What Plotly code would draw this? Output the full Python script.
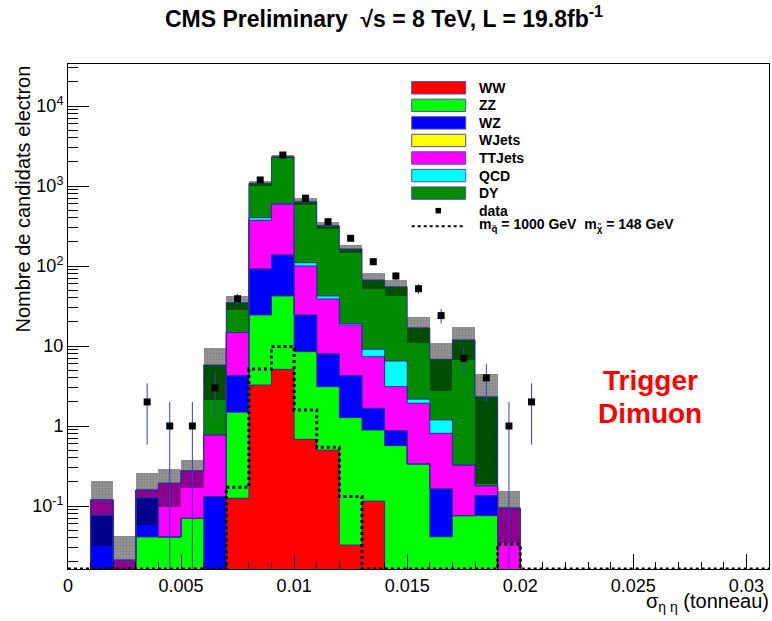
import numpy as np
import plotly.graph_objects as go

# Histogram binning: 31 bins of width 0.001 between 0 and 0.031
bin_width = 0.001
n_bins = 31

# Expected yields per bin (bin i covers [i*0.001, (i+1)*0.001))
ww = [0, 0, 0, 0, 0, 0, 0, 0.125, 3.25, 5.11, 0.682, 0.5, 0.0325, 0.115] + [0] * 17
zz = [0, 0, 0, 0.041, 0.041, 0.070, 0, 1.36, 21.2, 37.1, 7.81, 2.60, 1.24, 0.775,
      0.567, 0.335, 0.0413, 0.0757, 0.0757] + [0] * 12
wz = [0, 0.077, 0, 0.086, 0, 0, 0.131, 2.77, 67.3, 94.8, 15.9, 4.84, 2.98, 0.77,
      0.307, 0, 0.122, 0, 0.059] + [0] * 12
wjets = [0] * 31
ttjets = [0, 0.042, 0.021, 0.031, 0.151, 0.204, 0.641, 10.5, 281, 453, 75.6, 30.8,
          14.1, 5.69, 2.23, 1.59, 0.647, 0.249, 0.044, 0.094] + [0] * 11
qcd = [0] * 8 + [29, 15, 10, 3.5, 0.8, 1.75, 3.39, 0.24, 0.38] + [0] * 14
dy = [0] * 6 + [5.02, 20.1, 679, 1718, 527, 277, 144, 57.7, 48.5, 14.7, 5.63,
                11.6, 2.14] + [0] * 12

# Uncertainty on the total background (half-width of the hatched band)
bkg_err = [0, 0.087, 0.021, 0.10, 0.095, 0.105, 3.7, 7.0, 74, 115, 63, 33, 19, 15,
           12.3, 6.1, 4.1, 5.2, 2.13, 0.06] + [0] * 11

# Observed events
data = [0, 0, 0, 2, 1, 1, 3, 39, 1190, 2440, 705, 358, 222, 113, 75, 52, 24, 7, 4,
        1, 2] + [0] * 10

# Signal point m_squark = 1000 GeV, m_chi = 148 GeV
signal = [0] * 7 + [0.171, 5.16, 9.85, 1.58, 0.542, 0.131] + [0] * 6 + [0.0332] + [0] * 11

process_names = ["WW", "ZZ", "WZ", "WJets", "TTJets", "QCD", "DY"]
process_colors = ["#ff0000", "#00ff00", "#0000ff", "#ffff00", "#ff00ff", "#00ffff", "#008c00"]
process_yields = [ww, zz, wz, wjets, ttjets, qcd, dy]

x_range = [0, 0.031]
y_log_range = [-1.7875, 4.525]
y_floor = 10 ** y_log_range[0]

# Frame geometry in pixels
W, H = 772, 621
ML, MR, MT, MB = 68, 3, 64, 52
PW, PH = W - ML - MR, H - MT - MB

edges = np.arange(n_bins + 1) * bin_width
centers = edges[:-1] + bin_width / 2
stack = np.cumsum(np.array(process_yields, dtype=float), axis=0)
total = stack[-1]

outline_color = "#2e2e9a"
fig = go.Figure()

# Stacked histogram: cumulative sums, tallest first so lower layers sit on top
for k in reversed(range(len(process_names))):
    top = stack[k]
    fig.add_bar(x=centers, y=np.where(top > 0, top, np.nan), width=bin_width,
                marker=dict(color=process_colors[k], line=dict(width=0)),
                showlegend=False, hoverinfo="skip")

# Hatched uncertainty band on the total background
band_lo = np.maximum(total - np.array(bkg_err), y_floor * 0.5)
band_hi = total + np.array(bkg_err)
has_bkg = total > 0
fig.add_bar(x=centers[has_bkg], y=(band_hi - band_lo)[has_bkg], base=band_lo[has_bkg],
            width=bin_width,
            marker=dict(color="rgba(0,0,0,0.42)", line=dict(width=0),
                        pattern=dict(shape=".", size=3, solidity=0.3,
                                     fgcolor="rgba(0,0,0,0.25)", fillmode="overlay")),
            showlegend=False, hoverinfo="skip")

# Step outlines of every cumulative histogram
for k in range(len(process_names)):
    top = np.where(stack[k] > 0, stack[k], y_floor * 0.3)
    fig.add_scatter(x=edges, y=np.append(top, top[-1]), mode="lines",
                    line=dict(color=outline_color, width=1, shape="hv"),
                    showlegend=False, hoverinfo="skip")

# Signal histogram (dotted step line)
sig = np.where(np.array(signal) > 0, signal, y_floor)
fig.add_scatter(x=edges, y=np.append(sig, sig[-1]), mode="lines",
                line=dict(color="black", width=3, dash="dot", shape="hv"),
                cliponaxis=False, showlegend=False, hoverinfo="skip")

# Data points with Poisson errors
d = np.array(data, dtype=float)
has_data = d > 0
err = np.sqrt(d)
err_lo = np.minimum(err, d - y_floor * 0.5)
fig.add_scatter(x=centers[has_data], y=d[has_data], mode="markers",
                marker=dict(symbol="square", size=7, color="black"),
                error_y=dict(type="data", symmetric=False, array=err[has_data],
                             arrayminus=err_lo[has_data], color="#3a3ac8",
                             thickness=1, width=0),
                showlegend=False, hoverinfo="skip")


def px_x(px):
    return (px - ML) / PW


def px_y(py):
    return (H - MB - py) / PH


font_family = "Liberation Sans, Arial, sans-serif"
shapes = []
annotations = []

# Legend drawn inside the frame
leg_x0, leg_x1, leg_text_x = 411.7, 465.7, 477.3
row0, row_step = 87.8, 17.55
for i, (name, col) in enumerate(zip(process_names, process_colors)):
    yc = row0 + i * row_step
    shapes.append(dict(type="rect", xref="paper", yref="paper",
                       x0=px_x(leg_x0), x1=px_x(leg_x1),
                       y0=px_y(yc + 6.2), y1=px_y(yc - 6.2),
                       fillcolor=col, line=dict(color="#5050a8", width=1)))
    annotations.append(dict(x=px_x(leg_text_x), y=px_y(yc), xref="paper", yref="paper",
                            text=name, showarrow=False, xanchor="left", yanchor="middle",
                            font=dict(family=font_family, size=14, color="black", weight="bold")))

yc = row0 + 7 * row_step
shapes.append(dict(type="rect", xref="paper", yref="paper",
                   x0=px_x(435.5), x1=px_x(441), y0=px_y(yc + 2.75), y1=px_y(yc - 2.75),
                   fillcolor="black", line=dict(width=0)))
annotations.append(dict(x=px_x(leg_text_x), y=px_y(yc), xref="paper", yref="paper",
                        text="data", showarrow=False, xanchor="left", yanchor="middle",
                        font=dict(family=font_family, size=14, color="black", weight="bold")))

yc = row0 + 8 * row_step - 2
shapes.append(dict(type="line", xref="paper", yref="paper",
                   x0=px_x(leg_x0), x1=px_x(463.3), y0=px_y(yc), y1=px_y(yc),
                   line=dict(color="black", width=2, dash="dot")))
annotations.append(dict(x=px_x(leg_text_x), y=px_y(yc - 1), xref="paper", yref="paper",
                        text="m<sub>q\u0303</sub> = 1000 GeV\u00a0\u00a0m<sub>\u03c7\u0303</sub> = 148 GeV",
                        showarrow=False, xanchor="left", yanchor="middle",
                        font=dict(family=font_family, size=14, color="black", weight="bold")))

# Axis titles
annotations.append(dict(x=px_x(22), y=px_y(64), xref="paper", yref="paper",
                        text="Nombre de candidats electron", textangle=-90, showarrow=False,
                        xanchor="center", yanchor="top",
                        font=dict(family=font_family, size=20, color="black")))
annotations.append(dict(x=px_x(771), y=px_y(602), xref="paper", yref="paper",
                        text="\u03c3<sub>\u03b7 \u03b7</sub> (tonneau)", showarrow=False,
                        xanchor="right", yanchor="middle",
                        font=dict(family=font_family, size=20, color="black")))

# Channel label
for txt, yc in [("Trigger", 380.3), ("Dimuon", 413.3)]:
    annotations.append(dict(x=px_x(650), y=px_y(yc), xref="paper", yref="paper",
                            text=txt, showarrow=False, xanchor="center", yanchor="middle",
                            font=dict(family=font_family, size=28, color="#ff0000",
                                      weight="bold")))

y_tickvals = [0.1, 1, 10, 100, 1000, 10000]
y_ticktext = ["10<sup>-1</sup>", "1", "10", "10<sup>2</sup>", "10<sup>3</sup>", "10<sup>4</sup>"]

fig.update_layout(
    width=W, height=H,
    margin=dict(l=ML, r=MR, t=MT, b=MB),
    paper_bgcolor="white", plot_bgcolor="white",
    barmode="overlay", bargap=0, showlegend=False,
    font=dict(family=font_family, size=18, color="black"),
    title=dict(text="CMS Preliminary  \u221as = 8 TeV, L = 19.8fb<sup>-1</sup>",
               x=384 / W, xref="container", xanchor="center",
               y=1 - 19 / H, yref="container", yanchor="middle",
               font=dict(family=font_family, size=23, color="black", weight="bold")),
    xaxis=dict(range=x_range, showgrid=False, zeroline=False,
               showline=True, linecolor="black", linewidth=1, mirror=True,
               ticks="inside", ticklen=15, tickcolor="black", dtick=0.005, tick0=0,
               minor=dict(ticks="inside", ticklen=7, tickcolor="black", dtick=0.001),
               tickfont=dict(size=18)),
    yaxis=dict(type="log", range=y_log_range, showgrid=False, zeroline=False,
               showline=True, linecolor="black", linewidth=1, mirror=True,
               ticks="inside", ticklen=21, tickcolor="black",
               tickvals=y_tickvals, ticktext=y_ticktext,
               minor=dict(ticks="inside", ticklen=10, tickcolor="black", dtick="D1"),
               tickfont=dict(size=18)),
    shapes=shapes,
    annotations=annotations,
)

fig.write_html("out.html")
